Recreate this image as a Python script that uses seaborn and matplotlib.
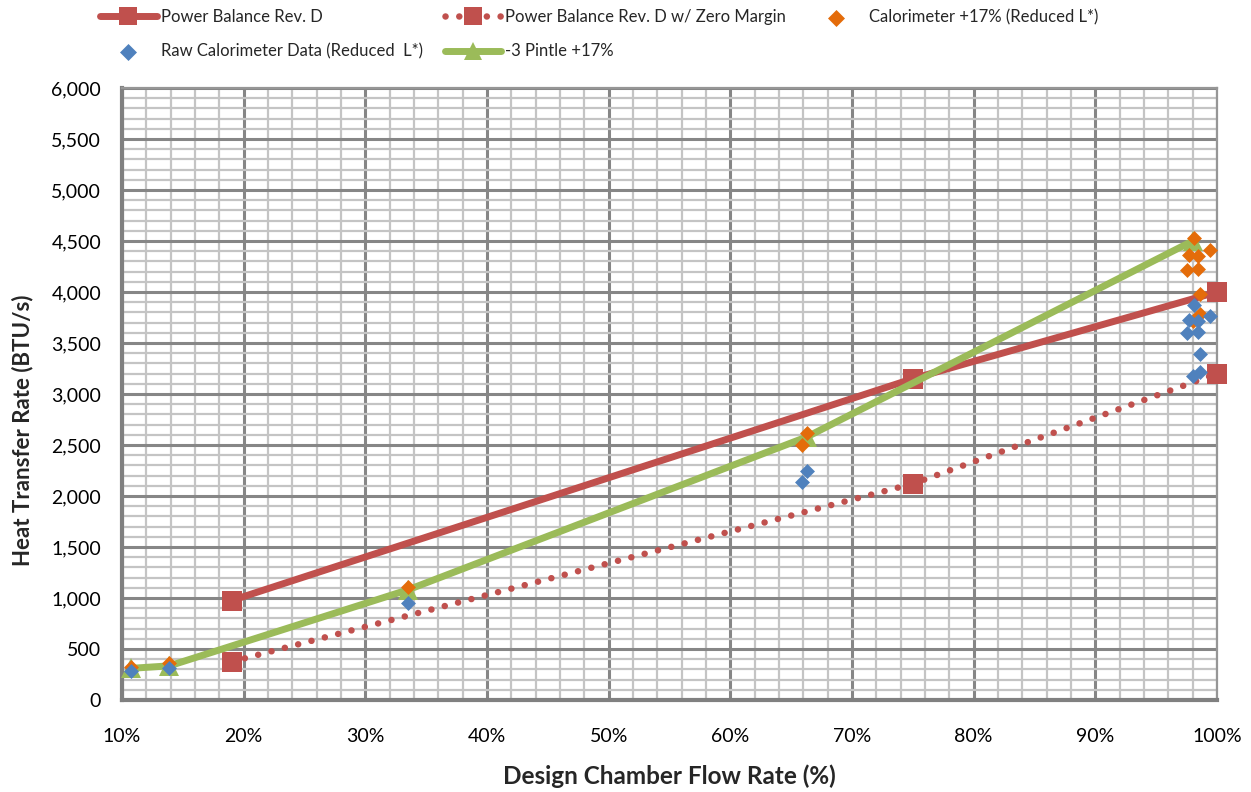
import matplotlib
matplotlib.use("Agg")
import matplotlib.pyplot as plt
from matplotlib.ticker import MultipleLocator, FuncFormatter
import seaborn as sns

# Chart values
pb_x = [19, 75, 100]
pb_y = [975, 3150, 4000]
pbz_x = [19, 75, 100]
pbz_y = [375, 2120, 3200]
pintle_x = [10.7, 13.9, 33.5, 66.3, 98.0]
pintle_y = [310, 335, 1080, 2580, 4500]
cal_x = [10.7, 13.9, 33.5, 66.3, 65.9, 98.1, 99.4, 97.7, 98.4, 97.5, 98.4, 98.6, 98.6, 98.0]
cal_y = [325, 365, 1105, 2620, 2500, 4525, 4410, 4360, 4350, 4215, 4225, 3980, 3785, 3720]
raw_x = [10.7, 13.9, 33.5, 66.3, 65.9, 98.1, 99.4, 97.7, 98.4, 97.5, 98.4, 98.6, 98.6, 98.0]
raw_y = [280, 315, 950, 2245, 2137, 3870, 3765, 3725, 3715, 3600, 3610, 3390, 3215, 3180]

RED = "#C0504D"
GREEN = "#9BBB59"
ORANGE = "#E46C0A"
BLUE = "#4F81BD"

sns.set_style("white")
plt.rcParams["font.family"] = ["Lato", "DejaVu Sans"]

fig = plt.figure(figsize=(12.51, 7.92), dpi=100)
ax = fig.add_axes([122 / 1251, 1 - 700 / 792, 1095 / 1251, 612 / 792])

sns.lineplot(x=pb_x, y=pb_y, ax=ax, color=RED, linewidth=5, marker="s",
             markersize=15, markeredgewidth=0, label="Power Balance Rev. D",
             zorder=3, clip_on=False)
sns.lineplot(x=pbz_x, y=pbz_y, ax=ax, color=RED, linewidth=4.7, marker="s",
             markersize=15, markeredgewidth=0, linestyle=(0, (0.01, 2.1)),
             dash_capstyle="round", label="Power Balance Rev. D w/ Zero Margin",
             zorder=3, clip_on=False)
sns.lineplot(x=pintle_x, y=pintle_y, ax=ax, color=GREEN, linewidth=5, marker="^",
             markersize=15, markeredgewidth=0, label="-3 Pintle +17%",
             zorder=4, clip_on=False)
sns.scatterplot(x=cal_x, y=cal_y, ax=ax, color=ORANGE, marker="D", s=58,
                linewidth=0, label="Calorimeter +17% (Reduced L*)", zorder=5)
sns.scatterplot(x=raw_x, y=raw_y, ax=ax, color=BLUE, marker="D", s=58,
                linewidth=0, label="Raw Calorimeter Data (Reduced  L*)", zorder=6)

ax.set_xlim(10, 100)
ax.set_ylim(0, 6000)
ax.xaxis.set_major_locator(MultipleLocator(10))
ax.xaxis.set_minor_locator(MultipleLocator(2))
ax.yaxis.set_major_locator(MultipleLocator(500))
ax.yaxis.set_minor_locator(MultipleLocator(100))
ax.xaxis.set_major_formatter(FuncFormatter(lambda v, p: f"{v:.0f}%"))
ax.yaxis.set_major_formatter(FuncFormatter(lambda v, p: f"{v:,.0f}"))

ax.set_axisbelow(True)
ax.grid(which="minor", color="#C4C4C4", linewidth=1.6)
ax.grid(which="major", color="#868686", linewidth=2.2)
ax.tick_params(axis="both", which="both", length=0, labelsize=14, colors="black")
ax.tick_params(axis="y", pad=15)
ax.tick_params(axis="x", pad=20)

for side in ["top", "right"]:
    ax.spines[side].set_color("#969696")
    ax.spines[side].set_linewidth(1.6)
for side in ["left", "bottom"]:
    ax.spines[side].set_color("#808080")
    ax.spines[side].set_linewidth(3)

ax.set_xlabel("Design Chamber Flow Rate (%)", fontsize=17.5, fontweight="bold")
ax.set_ylabel("Heat Transfer Rate (BTU/s)", fontsize=16, fontweight="bold")
ax.xaxis.set_label_coords(0.5, -0.106)
ax.yaxis.set_label_coords(-0.081, 0.44)

# legend laid out row by row like the original
handles, labels = ax.get_legend_handles_labels()
ax.get_legend().remove()
order = [0, 4, 1, 2, 3]
leg = fig.legend([handles[i] for i in order], [labels[i] for i in order],
                 loc="upper left", bbox_to_anchor=(100 / 1251, 1 - 9 / 792), ncol=3,
                 frameon=False, fontsize=12, handlelength=3.4, handletextpad=0.25,
                 columnspacing=1.3, labelspacing=1.1, borderpad=0, borderaxespad=0,
                 markerscale=0.9)
for h, lab in zip(leg.legend_handles, leg.get_texts()):
    if "Calorimeter" in lab.get_text():
        h.set_sizes([75])

fig.savefig("out.png", dpi=100)
